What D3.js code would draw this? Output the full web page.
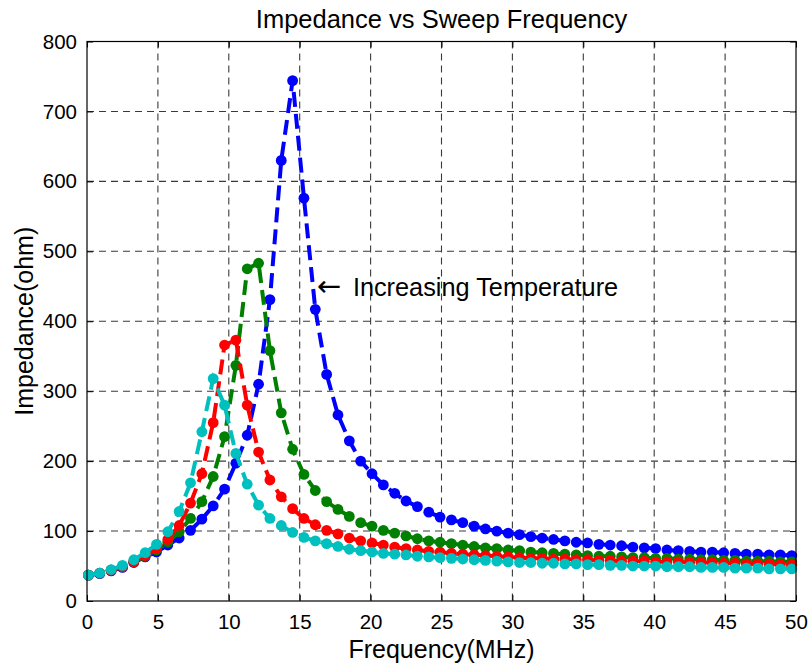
<!DOCTYPE html>
<html><head><meta charset="utf-8">
<script src="https://cdn.jsdelivr.net/npm/d3@7/dist/d3.min.js"></script>
<style>body{margin:0;background:#fff}svg text{font-family:"Liberation Sans",Arial,Helvetica,sans-serif;fill:#000}</style>
</head><body><svg id="chart" width="812" height="669"></svg>
<script>
const freq = [0.1,0.9,1.7,2.5,3.3,4.1,4.9,5.7,6.5,7.3,8.1,8.9,9.7,10.5,11.3,12.1,12.9,13.7,14.5,15.3,16.1,16.9,17.7,18.5,19.3,20.1,20.9,21.7,22.5,23.3,24.1,24.9,25.7,26.5,27.3,28.1,28.9,29.7,30.5,31.3,32.1,32.9,33.7,34.5,35.3,36.1,36.9,37.7,38.5,39.3,40.1,40.9,41.7,42.5,43.3,44.1,44.9,45.7,46.5,47.3,48.1,48.9,49.7];
const blueZ = [37,39,43,48,55,63,70,80,90,101,117,136,160,197,237,310,431,630,744,576,417,324,266,229,200,182,166,154,143,135,127,120,116,112,107,103,100,97,95,92,90,88,86,84,83,81,80,79,77,76,75,73,72,71,70,70,69,68,67,67,66,66,65];
const greenZ = [37,40,44,49,56,64,73,84,99,118,142,178,235,337,475,483,358,269,217,181,158,142,131,121,112,107,101,97,93,89,86,84,82,80,78,76,75,73,72,70,69,68,67,66,65,64,64,63,62,62,61,61,60,60,59,59,58,58,57,57,57,56,56];
const redZ = [37,40,44,49,56,65,75,88,108,140,182,255,366,373,280,213,173,149,132,118,109,101,96,90,86,83,80,77,75,73,71,70,68,67,66,65,64,63,62,61,61,60,60,59,59,58,58,57,57,57,56,56,56,55,55,55,54,54,53,53,53,52,52];
const cyanZ = [37,40,45,51,59,69,81,99,128,169,242,318,280,211,167,137,118,108,98,91,86,82,78,74,72,70,68,67,66,64,63,62,61,60,59,58,57,56,55,55,54,54,53,53,52,52,51,51,50,50,50,49,49,49,48,48,48,47,47,47,46,46,46];
const seriesNames = ["blue","green","red","cyan"];
const seriesColors = ["#0000ff","#008000","#ff0000","#00bfbf"];
const seriesValues = [blueZ, greenZ, redZ, cyanZ];
const xTicks = [0,5,10,15,20,25,30,35,40,45,50];
const yTicks = [0,100,200,300,400,500,600,700,800];
const titleText = "Impedance vs Sweep Frequency";
const xLabel = "Frequency(MHz)";
const yLabel = "Impedance(ohm)";
const annotText = "Increasing Temperature";

const svg = d3.select("#chart");
const L = 87, R = 796, T = 41.5, B = 601;
const x = d3.scaleLinear().domain([0,50]).range([L,R]);
const y = d3.scaleLinear().domain([0,800]).range([B,T]);

svg.append("rect").attr("width",812).attr("height",669).attr("fill","#fff");

// grid
const grid = svg.append("g").attr("stroke","#3a3a3a").attr("stroke-width",1.1).attr("stroke-dasharray","7,5");
grid.selectAll(".vg").data(xTicks.slice(1,-1)).enter().append("line")
  .attr("x1",d=>x(d)).attr("x2",d=>x(d)).attr("y1",T).attr("y2",B);
grid.selectAll(".hg").data(yTicks.slice(1,-1)).enter().append("line")
  .attr("x1",L).attr("x2",R).attr("y1",d=>y(d)).attr("y2",d=>y(d));

// axes
const fmt = d3.format("d");
const xAx = svg.append("g").attr("transform",`translate(0,${B})`)
  .call(d3.axisBottom(x).tickValues(xTicks).tickSizeInner(-6).tickSizeOuter(0).tickPadding(13).tickFormat(fmt));
const xAxT = svg.append("g").attr("transform",`translate(0,${T})`)
  .call(d3.axisTop(x).tickValues(xTicks).tickSizeInner(-6).tickSizeOuter(0).tickFormat(""));
const yAx = svg.append("g").attr("transform",`translate(${L},0)`)
  .call(d3.axisLeft(y).tickValues(yTicks).tickSizeInner(-6).tickSizeOuter(0).tickPadding(14).tickFormat(fmt));
const yAxR = svg.append("g").attr("transform",`translate(${R},0)`)
  .call(d3.axisRight(y).tickValues(yTicks).tickSizeInner(-6).tickSizeOuter(0).tickFormat(""));
[xAx,xAxT,yAx,yAxR].forEach(g=>{
  g.select(".domain").remove();
  g.selectAll("line").attr("stroke","#000").attr("stroke-width",1);
  g.selectAll("text").style("font-size","20.5px").attr("fill","#000");
});
xAx.selectAll("text").attr("dy","0.71em");
yAx.selectAll("text").attr("dx","4");

// series
const line = d3.line().x((d,i)=>x(freq[i])).y(d=>y(d));
seriesValues.forEach((vals,si)=>{
  const g = svg.append("g").attr("class","series-"+seriesNames[si]);
  g.append("path").datum(vals).attr("d",line).attr("fill","none")
    .attr("stroke",seriesColors[si]).attr("stroke-width",4).attr("stroke-dasharray","15,7");
  g.selectAll("circle").data(vals).enter().append("circle")
    .attr("cx",(d,i)=>x(freq[i])).attr("cy",d=>y(d)).attr("r",5.4).attr("fill",seriesColors[si]);
});

// box
svg.append("rect").attr("x",L).attr("y",T).attr("width",R-L).attr("height",B-T)
  .attr("fill","none").attr("stroke","#000").attr("stroke-width",1.2);

// title & labels
svg.append("text").attr("x",(L+R)/2).attr("y",28).attr("text-anchor","middle").style("font-size","25.5px").text(titleText);
svg.append("text").attr("x",(L+R)/2).attr("y",658).attr("text-anchor","middle").style("font-size","25px").text(xLabel);
svg.append("text").attr("transform",`translate(33,${(T+B)/2}) rotate(-90)`).attr("text-anchor","middle").style("font-size","25px").text(yLabel);

// annotation
svg.append("text").attr("x",x(16.2)).attr("y",296).style("font-family","'DejaVu Sans'").style("font-size","29px").text("\u2190");
svg.append("text").attr("x",x(18.75)).attr("y",296).style("font-size","25.3px").text(annotText);
</script></body></html>
